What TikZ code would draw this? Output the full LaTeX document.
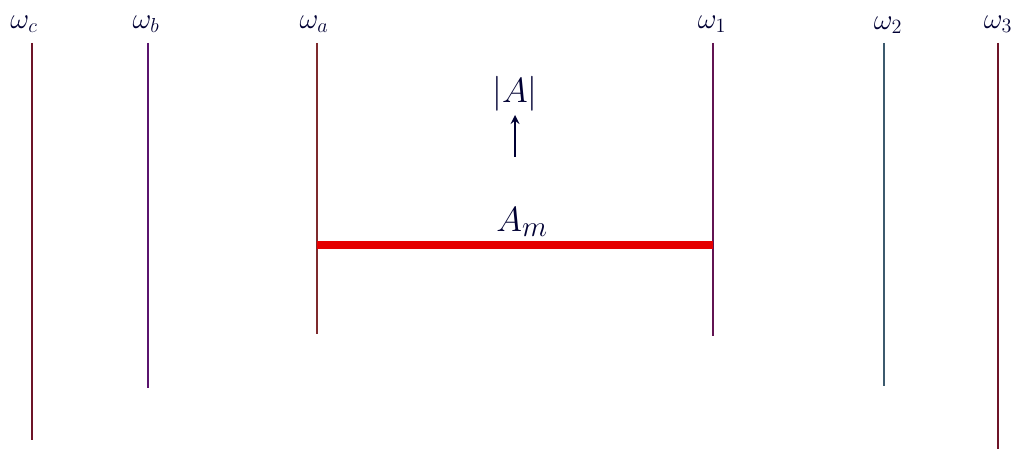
\documentclass[tikz,border=0pt]{standalone}
\begin{document}
\begin{tikzpicture}[x=0.025cm,y=-0.025cm,
  lab/.style={text=black!80!blue, font=\fontsize{22}{26}\selectfont, inner sep=0pt},
  big/.style={text=black!80!blue, font=\fontsize{34}{40}\selectfont, inner sep=0pt},
  freq/.style={line width=2pt},
  ambar/.style={draw=red!90!black, line width=5pt},
  ]
\useasboundingbox (0,0) rectangle (1024,452);
\definecolor{maroon}{RGB}{110,20,40}
\definecolor{purp}{RGB}{90,20,110}
\definecolor{teal2}{RGB}{60,90,110}
% labels
\node[lab] (lc) at (24,24) {$\omega_c$};
\node[lab] (lb) at (146,24) {$\omega_b$};
\node[lab] (la) at (314,24) {$\omega_a$};
\node[lab] (l1) at (712,24) {$\omega_1$};
\node[lab] (l2) at (888,25) {$\omega_2$};
\node[lab] (l3) at (998,24) {$\omega_3$};
% line ends
\coordinate (ct) at (32,43);  \coordinate (cb) at (32,440);
\coordinate (bt) at (148,43); \coordinate (bb) at (148,388);
\coordinate (at) at (317,43); \coordinate (ab) at (317,334);
\coordinate (1t) at (713,43); \coordinate (1b) at (713,336);
\coordinate (2t) at (884,43); \coordinate (2b) at (884,386);
\coordinate (3t) at (998,43); \coordinate (3b) at (998,449);
\draw[freq, maroon] (ct) -- (cb);
\draw[freq, purp] (bt) -- (bb);
\draw[freq, maroon!80!brown] (at) -- (ab);
\draw[freq, purp!60!maroon] (1t) -- (1b);
\draw[freq, teal2] (2t) -- (2b);
\draw[freq, maroon] (3t) -- (3b);
% A_m bar
\coordinate (ma) at (317,245);
\coordinate (m1) at (713,245);
\draw[ambar] (ma) -- (m1);
\node[big, font=\fontsize{28}{32}\selectfont] (am) at (522,222) {$A_m$};
\node[big] (absa) at (515,94) {$|A|$};
\coordinate (arrs) at (515,157);
\coordinate (arre) at (515,115);
\draw[-stealth, line width=1.8pt, black!80!blue] (arrs) -- (arre);
\end{tikzpicture}
\end{document}
